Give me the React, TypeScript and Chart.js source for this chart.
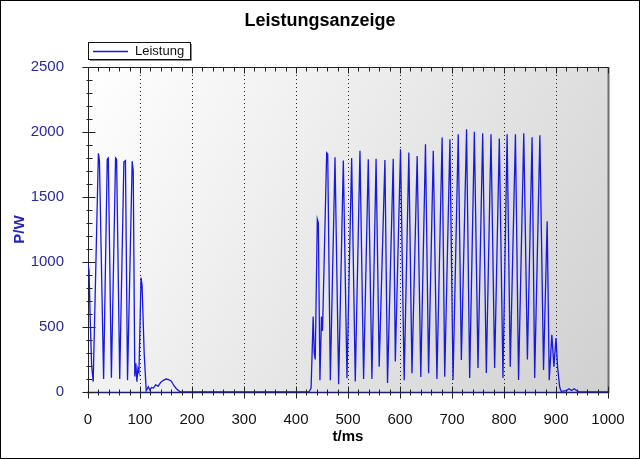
import { useEffect, useRef } from 'react';
import { Chart, registerables } from 'chart.js';

Chart.register(...registerables);

const chartTitle = 'Leistungsanzeige';
const seriesLabel = 'Leistung';
const xTitle = 't/ms';
const yTitle = 'P/W';

const xTicks = [0, 100, 200, 300, 400, 500, 600, 700, 800, 900, 1000];
const yTicks = [0, 500, 1000, 1500, 2000, 2500];

// time in ms
const timeMs = [
  0, 2, 4, 7, 10, 20, 22, 30, 37, 39, 45, 53, 55, 61, 69, 72, 76, 85, 87, 90,
  92, 94, 96, 98, 102, 104, 108, 112, 116, 119, 122, 126, 130, 135, 140, 145,
  150, 155, 160, 165, 170, 176, 180,
  425, 429, 431, 433, 435, 437, 441, 443, 446, 449, 451, 459, 461, 466, 475,
  482, 491, 498, 507, 514, 523, 530, 539, 546, 554, 560, 571, 576, 587, 591,
  601, 608, 617, 623, 633, 640, 649, 655, 664, 671, 681, 686, 696, 702, 712,
  718, 728, 734, 743, 750, 759, 766, 775, 782, 791, 798, 806, 812, 822, 828,
  838, 845, 854, 859, 869, 876, 883, 887, 892, 896, 900, 903, 907, 910, 920,
  925, 930, 935, 940, 945, 1000,
];

// power in W
const powerW = [
  990, 930, 600, 200, 80, 1836, 1780, 100, 1790, 1800, 110, 1800, 1790, 100,
  1770, 1780, 90, 1775, 1700, 120, 220, 80, 180, 150, 880, 820, 300, 10, 40,
  15, 35, 30, 55, 45, 75, 90, 100, 95, 85, 50, 25, 5, 0,
  0, 30, 300, 580, 300, 250, 1330, 1300, 90, 580, 470, 1840, 1830, 90, 1805,
  60, 1780, 105, 1800, 80, 1855, 100, 1790, 100, 1795, 195, 1785, 70, 1795,
  235, 1867, 90, 1842, 145, 1816, 115, 1906, 145, 1855, 100, 1957, 118, 1944,
  93, 1983, 247, 2021, 108, 2001, 185, 1991, 147, 1983, 185, 1950, 108, 1983,
  195, 1983, 93, 1991, 250, 1960, 108, 1975, 170, 1314, 90, 440, 195, 415,
  195, 40, 5, 10, 25, 12, 25, 10, 0, 0,
];

const FONT = "'Liberation Sans', Arial, sans-serif";
const LINE_COLOR = 'rgb(24,24,225)';

const framePlugin = {
  id: 'frame',
  beforeDraw(chart: any) {
    const { ctx, chartArea: a } = chart;
    ctx.save();
    ctx.fillStyle = '#ffffff';
    ctx.fillRect(0, 0, chart.width, chart.height);
    const g = ctx.createLinearGradient(a.left, a.top, a.right, a.bottom);
    g.addColorStop(0, '#ffffff');
    g.addColorStop(0.35, '#efefef');
    g.addColorStop(1, '#d0d0d0');
    ctx.fillStyle = g;
    ctx.fillRect(a.left, a.top, a.right - a.left, a.bottom - a.top);
    ctx.restore();
  },
  beforeDatasetsDraw(chart: any) {
    const { ctx, chartArea: a } = chart;
    const xs = chart.scales.x;
    const ys = chart.scales.y;
    ctx.save();
    // dotted vertical grid lines
    ctx.strokeStyle = '#222';
    ctx.lineWidth = 1;
    ctx.setLineDash([1, 3]);
    for (let i = 1; i < xTicks.length - 1; i++) {
      const px = Math.round(xs.getPixelForValue(xTicks[i])) + 0.5;
      ctx.beginPath();
      ctx.moveTo(px, a.top);
      ctx.lineTo(px, a.bottom);
      ctx.stroke();
    }
    ctx.setLineDash([]);

    // right border
    ctx.strokeStyle = '#6e6e6e';
    ctx.lineWidth = 2;
    ctx.beginPath();
    ctx.moveTo(a.right + 0.5, a.top);
    ctx.lineTo(a.right + 0.5, a.bottom + 1);
    ctx.stroke();

    // axis lines
    ctx.strokeStyle = '#222';
    ctx.lineWidth = 1;
    const L = Math.round(a.left) + 0.5;
    const B = Math.round(a.bottom) + 0.5;
    const T = Math.round(a.top) + 0.5;
    ctx.beginPath();
    ctx.moveTo(L, T);
    ctx.lineTo(L, B);
    ctx.moveTo(L, T);
    ctx.lineTo(a.right, T);
    ctx.stroke();
    ctx.strokeStyle = '#1c1c70';
    ctx.lineWidth = 1.5;
    ctx.beginPath();
    ctx.moveTo(a.left - 1, B);
    ctx.lineTo(a.right + 1, B);
    ctx.stroke();

    // ticks
    ctx.strokeStyle = '#222';
    ctx.lineWidth = 1;
    ctx.beginPath();
    for (let i = 0; i < xTicks.length; i++) {
      const px = Math.round(xs.getPixelForValue(xTicks[i])) + 0.5;
      ctx.moveTo(px, B - 6);
      ctx.lineTo(px, B + 6);
      ctx.moveTo(px, T);
      ctx.lineTo(px, T + 6);
      if (i < xTicks.length - 1) {
        const step = (xTicks[i + 1] - xTicks[i]) / 5;
        for (let k = 1; k < 5; k++) {
          const mx = Math.round(xs.getPixelForValue(xTicks[i] + k * step)) + 0.5;
          ctx.moveTo(mx, B - 3);
          ctx.lineTo(mx, B + 3);
          ctx.moveTo(mx, T);
          ctx.lineTo(mx, T + 4);
        }
      }
    }
    for (let i = 0; i < yTicks.length; i++) {
      const py = Math.round(ys.getPixelForValue(yTicks[i])) + 0.5;
      ctx.moveTo(L - 6, py);
      ctx.lineTo(L + 7, py);
      if (i < yTicks.length - 1) {
        const step = (yTicks[i + 1] - yTicks[i]) / 5;
        for (let k = 1; k < 5; k++) {
          const my = Math.round(ys.getPixelForValue(yTicks[i] + k * step)) + 0.5;
          ctx.moveTo(L - 2, my);
          ctx.lineTo(L + 4, my);
        }
      }
    }
    ctx.stroke();
    ctx.restore();
  },
  afterDraw(chart: any) {
    const { ctx } = chart;
    const label = chart.data.datasets[0].label;
    ctx.save();
    // legend box
    ctx.fillStyle = '#ffffff';
    ctx.fillRect(88, 42, 102, 17);
    ctx.strokeStyle = '#888';
    ctx.lineWidth = 1;
    ctx.beginPath();
    ctx.moveTo(90, 60.5);
    ctx.lineTo(191.5, 60.5);
    ctx.lineTo(191.5, 44);
    ctx.stroke();
    ctx.strokeStyle = '#111';
    ctx.strokeRect(88.5, 42.5, 102, 17);
    ctx.strokeStyle = LINE_COLOR;
    ctx.lineWidth = 1.3;
    ctx.beginPath();
    ctx.moveTo(93, 51.5);
    ctx.lineTo(128, 51.5);
    ctx.stroke();
    ctx.fillStyle = '#111';
    ctx.font = `13px ${FONT}`;
    ctx.textBaseline = 'middle';
    ctx.textAlign = 'left';
    ctx.fillText(label, 135, 51.5);
    // outer border
    ctx.strokeStyle = '#000';
    ctx.lineWidth = 1;
    ctx.strokeRect(0.5, 0.5, chart.width - 1, chart.height - 1);
    ctx.restore();
  },
};

export default function App() {
  const ref = useRef<HTMLCanvasElement | null>(null);

  useEffect(() => {
    if (!ref.current) return;
    const points = timeMs.map((t, i) => ({ x: t, y: powerW[i] }));
    const chart = new Chart(ref.current, {
      type: 'line',
      data: {
        datasets: [
          {
            label: seriesLabel,
            data: points,
            borderColor: LINE_COLOR,
            backgroundColor: LINE_COLOR,
            borderWidth: 1.3,
            pointRadius: 0,
            tension: 0,
            fill: false,
            yAxisID: 'y',
          },
        ],
      },
      options: {
        animation: false,
        responsive: false,
        maintainAspectRatio: false,
        layout: { padding: 0 },
        plugins: {
          legend: { display: false },
          tooltip: { enabled: false },
          title: {
            display: true,
            text: chartTitle,
            color: '#000',
            font: { family: FONT, size: 18, weight: 'bold' },
            padding: { top: 10, bottom: 35.4 },
          },
        },
        scales: {
          x: {
            type: 'linear',
            min: 0,
            max: 1000,
            afterBuildTicks: (s: any) => {
              s.ticks = xTicks.map((v) => ({ value: v }));
            },
            afterFit: (s: any) => {
              s.height = 67;
            },
            grid: { display: false },
            border: { display: false },
            ticks: {
              color: '#111',
              font: { family: FONT, size: 15 },
              padding: 11,
              maxRotation: 0,
              autoSkip: false,
              callback: (v: any) => String(v),
            },
            title: {
              display: true,
              text: xTitle,
              color: '#000',
              font: { family: FONT, size: 15, weight: 'bold' },
              padding: { top: 0, bottom: 13 },
            },
          },
          y: {
            type: 'linear',
            position: 'left',
            min: 0,
            max: 2500,
            afterBuildTicks: (s: any) => {
              s.ticks = yTicks.map((v) => ({ value: v }));
            },
            afterFit: (s: any) => {
              s.width = 88;
            },
            grid: { display: false },
            border: { display: false },
            ticks: {
              color: '#2a2a9c',
              font: { family: FONT, size: 15 },
              padding: 16,
              autoSkip: false,
              callback: (v: any) => String(v),
            },
            title: {
              display: true,
              text: yTitle,
              color: '#2424c4',
              font: { family: FONT, size: 15, weight: 'bold' },
              padding: { top: 11, bottom: 0 },
            },
          },
          yRight: {
            type: 'linear',
            position: 'right',
            min: 0,
            max: 2500,
            afterFit: (s: any) => {
              s.width = 32;
            },
            grid: { display: false },
            border: { display: false },
            ticks: { display: false },
          },
        },
      },
      plugins: [framePlugin],
    });
    return () => chart.destroy();
  }, []);

  return (
    <div style={{ position: 'absolute', left: 0, top: 0, width: 640, height: 459 }}>
      <canvas ref={ref} width={640} height={459} style={{ display: 'block' }} />
    </div>
  );
}
